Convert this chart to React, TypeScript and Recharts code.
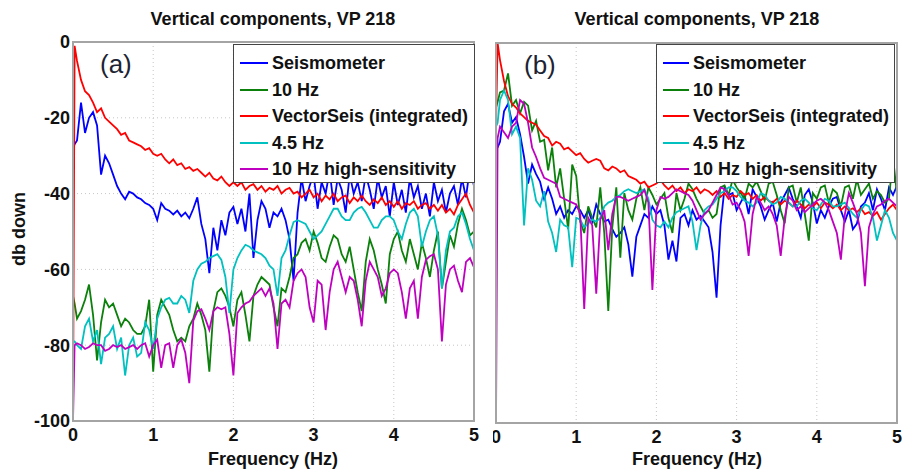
import React from 'react'
import { LineChart, Line, XAxis, YAxis, CartesianGrid } from 'recharts'

const FONT = "'Liberation Sans', Arial, Helvetica, sans-serif"

// frequency grid (Hz)
const freq = [
  0, 0.02,
  0.05, 0.1, 0.15, 0.2, 0.25, 0.3, 0.35, 0.4, 0.45, 0.5,
  0.55, 0.6, 0.65, 0.7, 0.75, 0.8, 0.85, 0.9, 0.95, 1,
  1.05, 1.1, 1.15, 1.2, 1.25, 1.3, 1.35, 1.4, 1.45, 1.5,
  1.55, 1.6, 1.65, 1.7, 1.75, 1.8, 1.85, 1.9, 1.95, 2,
  2.05, 2.1, 2.15, 2.2, 2.25, 2.3, 2.35, 2.4, 2.45, 2.5,
  2.55, 2.6, 2.65, 2.7, 2.75, 2.8, 2.85, 2.9, 2.95, 3,
  3.05, 3.1, 3.15, 3.2, 3.25, 3.3, 3.35, 3.4, 3.45, 3.5,
  3.55, 3.6, 3.65, 3.7, 3.75, 3.8, 3.85, 3.9, 3.95, 4,
  4.05, 4.1, 4.15, 4.2, 4.25, 4.3, 4.35, 4.4, 4.45, 4.5,
  4.55, 4.6, 4.65, 4.7, 4.75, 4.8, 4.85, 4.9, 4.95, 5,
]

const xTicks = [0, 1, 2, 3, 4, 5]
const yTicks = [-100, -80, -60, -40, -20, 0]

const seriesNames = ['Seismometer', '10 Hz', 'VectorSeis (integrated)', '4.5 Hz', '10 Hz high-sensitivity']
const seriesColors = ['#0000ff', '#0b800b', '#ff0000', '#00c0c0', '#c000c0']

// ---- panel (a) ----
const aSeis = [
  -28, -27,
  -26, -16, -24, -20, -18.5, -22, -35, -30, -32, -35,
  -38, -40, -41.5, -39.5, -40, -41, -41.5, -42.5, -43, -44,
  -47, -42.5, -44, -44.5, -45.5, -44.5, -46, -45, -46.5, -44,
  -41, -48, -52, -61, -49, -55, -47, -51, -45, -43.5,
  -48, -44, -50, -40, -57, -47, -42, -44, -49, -45,
  -46, -44, -47, -52, -63, -45, -36, -42, -38, -35,
  -44, -37, -40, -34, -43, -36, -39, -45, -35, -40,
  -37, -42, -35, -39, -44, -36, -41, -38, -46, -37,
  -43, -39, -45, -36, -41, -38, -44, -40, -46, -37,
  -42, -39, -45, -40, -38, -43, -36, -41, -33, -38,
]
const a10 = [
  -67, -69,
  -73, -71, -68, -64, -72, -84, -74, -68, -70, -69,
  -72, -75, -73, -74, -76, -77, -77, -75, -68, -87,
  -72, -68, -70, -72, -76, -79, -78, -79, -75, -73,
  -69, -72, -76, -87, -71, -66, -65, -67, -70, -75,
  -68, -66, -72, -79, -67, -64, -62, -63, -64, -70,
  -75, -65, -66, -62, -57, -56, -53, -52, -55, -50,
  -53, -57, -58, -54, -51, -52, -56, -58, -54, -60,
  -66, -71, -58, -52, -55, -60, -64, -69, -56, -52,
  -50, -55, -58, -52, -56, -60, -53, -57, -62, -55,
  -50, -65, -58, -51, -54, -48, -44, -47, -51, -50,
]
const aVector = [
  -100, -1,
  -5, -10, -13, -14, -16, -18.5, -17.5, -20, -21, -22,
  -23, -24.5, -24, -26, -26.5, -27, -27.5, -28.5, -28, -29.5,
  -30, -29.5, -31, -32, -31, -32.5, -32, -33.5, -33, -34,
  -33.5, -34.5, -35.5, -34.5, -36, -36.5, -35.5, -37, -38, -37,
  -38, -37, -39, -38, -37.5, -39, -38, -39.5, -38.5, -39,
  -38, -40, -39, -38.5, -40, -39.5, -41, -40, -39, -41,
  -40, -42, -40.5, -41.5, -40, -42, -41, -40.5, -42.5, -41,
  -42, -40.5, -42, -43, -41.5, -42.5, -41, -43, -42, -43.5,
  -42, -44, -42.5, -43, -42, -44, -43, -42.5, -44, -43,
  -44.5, -43, -45, -44, -45.5, -43, -41.5, -40, -43, -45,
]
const a45 = [
  -79, -79,
  -80, -81, -75, -73, -79, -76, -85, -78, -77, -75,
  -81, -78, -88, -80, -78, -83, -82, -74, -76, -81,
  -73, -70, -68, -67.5, -69, -69, -67, -68, -71.5, -63,
  -60, -58.5, -58, -57, -56.5, -56, -57.5, -62, -71.5, -60,
  -57, -55, -53.5, -54, -55, -55.5, -56, -57, -59, -60,
  -67, -57, -55, -51, -47.5, -47, -47.5, -48, -50, -52,
  -51, -50, -48, -46, -44, -44, -46, -47, -47, -45,
  -44, -43.5, -45, -47, -49, -49, -47, -46, -46, -47,
  -50, -52, -48, -45, -44, -46, -54, -50, -47, -46,
  -51, -65, -55, -50, -49, -46, -45, -48, -52, -55,
]
const aHs = [
  -100, -80,
  -79.5, -80, -81, -80.5, -79.5, -80, -80, -81.5, -81, -80,
  -80.5, -80, -81, -80.5, -80, -81, -80, -79.5, -83, -80,
  -78.5, -86, -80, -79.5, -86, -80, -78.5, -82, -90, -73.5,
  -71, -70.5, -73, -76, -71, -70, -70.5, -70, -77, -88,
  -71.5, -70, -69, -68.5, -67, -66, -65, -67, -65, -69,
  -81, -69, -68, -70, -63, -61, -60, -62, -70, -74,
  -63, -64, -76, -66, -60, -58, -62, -66, -62, -63,
  -68, -75, -63, -58, -60, -62, -67, -65, -61, -60,
  -61, -66, -73, -65, -63, -73, -62, -57.5, -56.5, -56,
  -60, -79, -64, -60, -59, -63, -66, -58, -57, -59.5,
]

// ---- panel (b) ----
const bSeis = [
  -28, -27.5,
  -26, -18, -16, -21, -19.5, -24, -30, -37, -32, -34.5,
  -36.5, -41, -38, -41, -45, -43, -46, -44, -45, -43,
  -44, -46, -44, -47, -42.5, -45, -47, -46.5, -49, -51,
  -50, -48.5, -53, -61.5, -51, -48, -45, -46, -43, -45,
  -44, -48, -57, -52, -57.5, -46, -45, -48, -44, -46.5,
  -45.5, -47, -48.5, -55, -67, -48, -38, -40, -39.5, -44,
  -42, -40, -45, -38.5, -40.5, -43, -46.5, -44, -42, -47,
  -42, -40, -38, -41, -43, -46, -40, -38.5, -42, -47.5,
  -44, -46, -43, -41, -40.5, -44, -47, -44, -49, -47.5,
  -43, -42, -39.5, -44, -38.5, -41, -44, -38, -40, -37.5,
]
const b10 = [
  -17, -15.5,
  -13, -12.5, -8, -16.5, -15, -18.5, -15.5, -16.5, -23, -20.5,
  -26, -25.5, -33.5, -27.5, -38, -33, -41, -49, -32, -35,
  -47, -50, -43, -46, -48.5, -38, -50, -70.5, -48.5, -38,
  -56.5, -39.5, -44, -46.5, -41, -38, -44, -38, -40, -42.5,
  -41, -39.5, -46, -50, -39.5, -44, -41, -37, -38.5, -41,
  -43, -45, -44, -46, -45, -38, -37.5, -40, -36, -38,
  -39.5, -41, -37, -38, -36.5, -39, -41.5, -37, -36.5, -40,
  -44, -47.5, -38, -37.5, -42, -38, -45, -52, -39.5, -41,
  -38, -37.5, -42, -38.5, -39.5, -43, -38, -37.5, -41, -36,
  -40, -38.5, -37, -41, -39, -40, -42, -41, -30, -40,
]
const bVector = [
  -22, 0,
  -4.5, -10, -14, -16, -17, -18.5, -19.5, -20.5, -21, -21.5,
  -23, -24.5, -25, -27, -26, -26.5, -28, -27.5, -28.5, -29.5,
  -29, -30.5, -31.5, -31, -30.5, -31, -33, -33.5, -32.5, -33,
  -34, -33.5, -35, -35.5, -36, -37, -36.5, -38, -37.5, -37,
  -36, -37.5, -38.5, -37.5, -39, -38, -39.5, -38.5, -39, -38,
  -39.5, -38.5, -39, -40, -39, -40.5, -39.5, -41, -40, -40.5,
  -39, -40, -39.5, -41, -40, -41.5, -40.5, -41.5, -42, -41,
  -42.5, -41.5, -42, -43, -41.5, -42.5, -43.5, -42.5, -43, -42,
  -43.5, -42, -42.5, -43.5, -42.5, -44, -43, -44, -43.5, -44.5,
  -43.5, -45, -44.5, -45.5, -44.5, -46.5, -45, -43.5, -42.5, -44,
]
const b45 = [
  -22, -21,
  -15, -12.5, -15, -24, -22, -25, -48, -33, -36, -41.5,
  -43, -39, -47, -50, -55, -46.5, -48, -48.5, -59, -46,
  -46.5, -48.5, -47.5, -46.5, -47, -46, -43, -42, -41.5, -40.5,
  -40, -39, -38.5, -39, -39.5, -39, -38.5, -41, -46.5, -48,
  -48.5, -47, -48.5, -46, -44.5, -44, -43.5, -43, -47, -54.5,
  -48, -44, -43, -42.5, -41, -39.5, -39, -38, -38, -39,
  -40.5, -41.5, -42, -43, -42, -39.5, -40, -41.5, -42.5, -42,
  -40.5, -41, -42, -43, -43, -41.5, -41, -42, -43.5, -44,
  -42.5, -41, -41.5, -43, -43, -42.5, -42, -43.5, -45, -46,
  -44, -42.5, -43, -46, -52, -48, -44, -46, -50, -52,
]
const bHs = [
  -100, -25,
  -22, -23.5, -25, -22, -21, -15, -16, -21, -27.5, -30,
  -33, -35.5, -36, -36.5, -37, -40.5, -41, -41.5, -42, -42.5,
  -45, -70, -46, -48, -66, -46.5, -44, -54.5, -45, -40.5,
  -40.5, -41, -41.5, -41, -40.5, -40, -38.7, -42, -65, -44,
  -40.5, -41, -40.5, -39.5, -38.5, -39, -39.5, -40, -41.5, -44,
  -46.5, -45, -44, -42, -40, -38, -38.5, -40, -42.5, -42,
  -44, -47, -56, -45, -40.5, -42, -44, -43, -45, -48,
  -56, -46, -40.5, -41.5, -44, -43, -44.5, -43.5, -42.5, -41.5,
  -41, -42, -44, -47, -50, -57, -45, -39.5, -42, -45,
  -50, -64, -48.5, -45, -43, -42.5, -41.5, -41, -42, -43,
]

const toRows = (cols: number[][]) =>
  freq.map((f, i) => {
    const row: Record<string, number> = { f }
    cols.forEach((c, k) => {
      row['s' + k] = c[i]
    })
    return row
  })

const rowsA = toRows([aSeis, a10, aVector, a45, aHs])
const rowsB = toRows([bSeis, b10, bVector, b45, bHs])

const tickStyle = { fill: '#111', fontSize: 18, fontWeight: 700, fontFamily: FONT }

const SpectrumChart = ({ rows, top, plotH, showY }: { rows: any[]; top: number; plotH: number; showY: boolean }) => (
  <LineChart width={480} height={475} data={rows} margin={{ top, right: 6, bottom: 0, left: 0 }}>
    <CartesianGrid stroke="#c6c6c6" strokeDasharray="1 3" />
    <XAxis
      dataKey="f"
      type="number"
      domain={[0, 5]}
      ticks={xTicks}
      interval={0}
      height={475 - top - plotH}
      tickLine={false}
      axisLine={false}
      tickSize={0}
      tickMargin={7}
      tick={tickStyle}
      allowDataOverflow
    />
    <YAxis
      type="number"
      domain={[-100, 0]}
      ticks={yTicks}
      interval={0}
      width={73}
      tickLine={false}
      axisLine={false}
      tickSize={0}
      tickMargin={3}
      tick={showY ? tickStyle : false}
      allowDataOverflow
    />
    {seriesColors.map((c, k) => (
      <Line
        key={k}
        type="linear"
        dataKey={'s' + k}
        stroke={c}
        strokeWidth={1.8}
        dot={false}
        isAnimationActive={false}
      />
    ))}
  </LineChart>
)

const Legend = ({ left, width, sample }: { left: number; width: number; sample: number }) => (
  <div
    style={{
      position: 'absolute',
      left,
      top: 44,
      width,
      height: 139,
      boxSizing: 'border-box',
      border: '1px solid #444',
      background: '#fff',
    }}
  >
    {seriesNames.map((name, k) => (
      <div key={name} style={{ position: 'absolute', left: 0, top: 18 + k * 26.5 - 11, height: 22, width: width - 2 }}>
        <div style={{ position: 'absolute', left: 6, top: 10, width: sample, height: 2, background: seriesColors[k] }} />
        <div
          style={{
            position: 'absolute',
            left: sample + 10,
            top: 0,
            lineHeight: '22px',
            fontSize: 18,
            fontWeight: 700,
            color: '#111',
            whiteSpace: 'nowrap',
          }}
        >
          {name}
        </div>
      </div>
    ))}
  </div>
)

const Frame = ({ left, top, width, height }: { left: number; top: number; width: number; height: number }) => (
  <div
    style={{
      position: 'absolute',
      left: left - 1,
      top: top - 1,
      width: width + 2,
      height: height + 2,
      boxSizing: 'border-box',
      border: '2px solid #a4a4a4',
      pointerEvents: 'none',
    }}
  />
)

const centered = (cx: number, top: number, text: string, size = 18, weight = 700) => (
  <div
    style={{
      position: 'absolute',
      left: cx - 200,
      top,
      width: 400,
      textAlign: 'center',
      fontSize: size,
      fontWeight: weight,
      lineHeight: 1,
      color: '#111',
      whiteSpace: 'nowrap',
    }}
  >
    {text}
  </div>
)

export default function App() {
  return (
    <div
      style={{
        position: 'absolute',
        left: 0,
        top: 0,
        width: 906,
        height: 475,
        background: '#fff',
        overflow: 'hidden',
        fontFamily: FONT,
      }}
    >
      {/* panel (a) */}
      <div style={{ position: 'absolute', left: 0, top: 0 }}>
        <SpectrumChart rows={rowsA} top={42} plotH={379} showY />
      </div>
      <Frame left={73} top={42} width={401} height={379} />
      <Legend left={233} width={242} sample={28} />
      <div style={{ position: 'absolute', left: 100, top: 51, fontSize: 26, lineHeight: 1, color: '#1c2333' }}>(a)</div>
      {centered(273, 10, 'Vertical components, VP 218')}
      {centered(273, 450, 'Frequency (Hz)')}
      <div
        style={{
          position: 'absolute',
          left: 19 - 60,
          top: 229 - 11,
          width: 120,
          height: 22,
          lineHeight: '22px',
          textAlign: 'center',
          fontSize: 18,
          fontWeight: 700,
          color: '#111',
          transform: 'rotate(-90deg)',
        }}
      >
        db down
      </div>

      {/* panel (b): its left edge is cropped like the reference image */}
      <div style={{ position: 'absolute', left: 493, top: 0, width: 413, height: 475, overflow: 'hidden' }}>
        <div style={{ position: 'absolute', left: -70, top: 0 }}>
          <SpectrumChart rows={rowsB} top={43} plotH={380} showY={false} />
        </div>
      </div>
      <Frame left={496} top={43} width={401} height={380} />
      <Legend left={656} width={239} sample={26} />
      <div style={{ position: 'absolute', left: 524, top: 52, fontSize: 26, lineHeight: 1, color: '#1c2333' }}>(b)</div>
      {centered(697, 10, 'Vertical components, VP 218')}
      {centered(697, 450, 'Frequency (Hz)')}
    </div>
  )
}
